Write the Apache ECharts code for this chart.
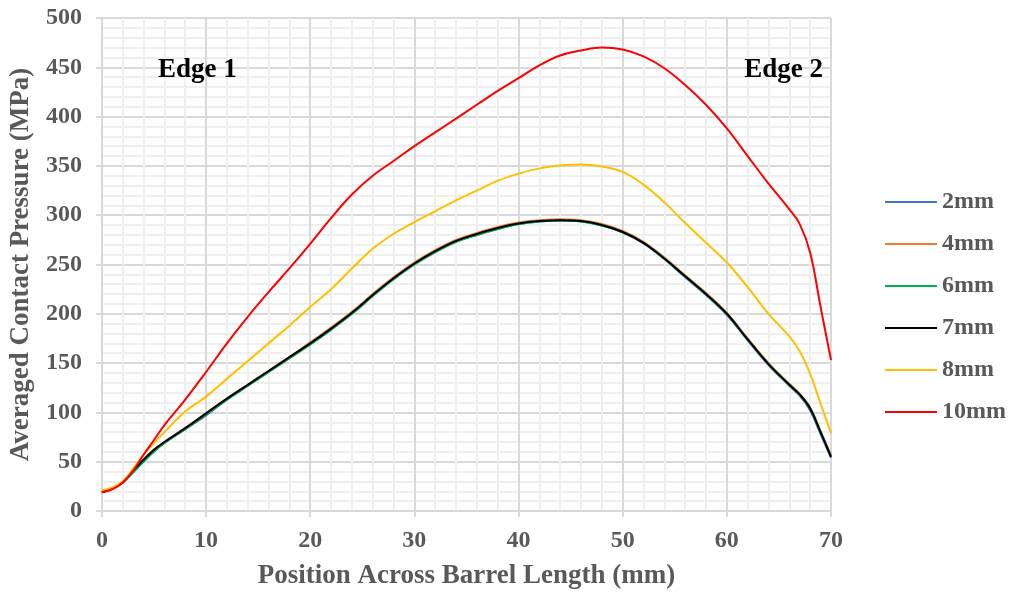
<!DOCTYPE html>
<html lang="en">
<head>
    <meta charset="UTF-8">
    <title>Averaged Contact Pressure</title>
    <style>
        * {
            padding: 0;
            margin: 0;
        }

        #chart {
            width: 1010px;
            height: 595px;
            background: #fff;
        }
    </style>
    <script src="https://cdn.jsdelivr.net/npm/echarts@6/dist/echarts.min.js"></script>
</head>
<body>
<div id="chart"></div>
<script>
    // positions along the barrel (mm)
    const positions = [0, 1, 2, 3, 4, 5, 6, 8, 10, 12, 14, 16, 18, 20, 22, 24, 26, 28, 30, 32, 34, 36, 38, 40,
        42, 44, 46, 48, 50, 52, 54, 56, 58, 60, 62, 64, 66, 67, 68, 69, 70]

    // averaged contact pressure (MPa)
    const p2mm = [19, 23, 29, 40, 51, 61, 69, 83, 97, 113, 127, 141, 155, 169, 184, 200, 218, 235, 250, 262.5, 273, 280,
        286, 291, 293.5, 294.5, 293.5, 289.5, 282.5, 271.5, 255.5, 237, 219, 199, 173, 148, 127, 117, 102, 78, 54]
    const p4mm = [19, 23, 29, 41, 52, 62, 70, 84, 99, 114, 128, 142, 156, 171, 186, 202, 220, 237, 252, 264.5, 275, 282,
        288, 292.5, 295, 296, 295, 291, 284, 273, 257, 239, 221, 201, 175, 150, 129, 119, 105, 81, 57]
    const p6mm = [19, 23, 29, 39, 50, 60, 69, 83, 98, 113, 127, 141, 155, 169, 184, 200, 218, 235, 250, 262.5, 273, 280,
        286, 291, 293.5, 294.5, 293.5, 289.5, 283, 272, 256, 238, 220, 200, 174, 149, 128, 118, 104, 80, 55]
    const p7mm = [19, 23, 29, 41, 52, 62, 70, 84, 99, 114, 128, 142, 156, 170, 185, 201, 219, 236, 251, 263.5, 274, 281,
        287, 291.5, 294, 295, 294, 290, 283, 272, 256, 238, 220, 200, 174, 149, 128, 118, 104, 80, 55]
    const p8mm = [21, 24, 30, 43, 57, 69, 80, 101, 116, 134, 152, 170, 188, 207, 225, 246, 266, 281, 293, 304, 315, 325,
        335, 342, 347.5, 350.5, 351.5, 349.5, 344, 331, 313, 292, 272, 252, 227, 200, 177, 162, 139, 109, 79]
    const p10mm = [19, 22, 29, 41, 57, 72, 87, 113, 141, 170, 197, 222, 246, 271, 297, 321, 340, 355, 370, 384, 398, 412,
        426, 439, 452, 462, 467, 470, 468, 461, 449, 432, 412, 388, 360, 332, 306, 291, 262, 207, 153]

    const names = ['2mm', '4mm', '6mm', '7mm', '8mm', '10mm']
    const values = [p2mm, p4mm, p6mm, p7mm, p8mm, p10mm]
    const colors = ['#4472C4', '#ED7D31', '#00B050', '#000000', '#FFC000', '#FF0000']

    const font = '"Liberation Serif", "Times New Roman", serif'
    const grey = '#595959'

    window.onload = () => {
        let chart = echarts.init(document.getElementById('chart'))
        let series = names.map((name, i) => ({
            name: name,
            type: 'line',
            data: positions.map((x, j) => [x, values[i][j]]),
            smooth: 0.4,
            showSymbol: false,
            symbol: 'none',
            lineStyle: {width: 2, color: colors[i]},
            itemStyle: {color: colors[i]},
            animation: false
        }))
        let option = {
            backgroundColor: '#fff',
            textStyle: {fontFamily: font},
            grid: {left: 100, right: 179, top: 18, bottom: 84},
            legend: {
                orient: 'vertical',
                left: 880,
                top: 185,
                icon: 'rect',
                itemWidth: 52,
                itemHeight: 2,
                itemGap: 18,
                data: names,
                textStyle: {fontFamily: font, fontWeight: 'bold', fontSize: 24, color: grey}
            },
            xAxis: {
                type: 'value',
                min: 0,
                max: 70,
                interval: 10,
                name: 'Position Across Barrel Length (mm)',
                nameLocation: 'middle',
                nameGap: 52,
                nameTextStyle: {fontFamily: font, fontWeight: 'bold', fontSize: 27, color: grey},
                axisLine: {lineStyle: {color: '#d9d9d9', width: 2}},
                axisTick: {show: true, length: 6, lineStyle: {color: '#d9d9d9', width: 2}},
                axisLabel: {fontFamily: font, fontWeight: 'bold', fontSize: 24, color: grey, margin: 18},
                splitLine: {lineStyle: {color: '#d9d9d9', width: 2}},
                minorTick: {show: false, splitNumber: 5},
                minorSplitLine: {show: true, lineStyle: {color: '#efefef', width: 2}}
            },
            yAxis: {
                type: 'value',
                min: 0,
                max: 500,
                interval: 50,
                name: 'Averaged Contact Pressure (MPa)',
                nameLocation: 'middle',
                nameGap: 62,
                nameTextStyle: {fontFamily: font, fontWeight: 'bold', fontSize: 27, color: grey},
                axisLine: {show: true, lineStyle: {color: '#d9d9d9', width: 2}},
                axisTick: {show: true, length: 6, lineStyle: {color: '#d9d9d9', width: 2}},
                axisLabel: {fontFamily: font, fontWeight: 'bold', fontSize: 24, color: grey, margin: 20},
                splitLine: {lineStyle: {color: '#d9d9d9', width: 2}},
                minorTick: {show: false, splitNumber: 5},
                minorSplitLine: {show: true, lineStyle: {color: '#efefef', width: 2}}
            },
            graphic: [
                {
                    type: 'text', left: 158, top: 57, z: 100,
                    style: {text: 'Edge 1', fontFamily: font, fontWeight: 'bold', fontSize: 27, fill: '#000'}
                },
                {
                    type: 'text', right: 187, top: 57, z: 100,
                    style: {text: 'Edge 2', fontFamily: font, fontWeight: 'bold', fontSize: 27, fill: '#000'}
                }
            ],
            series: series
        }
        chart.setOption(option)
    }
</script>
</body>
</html>
